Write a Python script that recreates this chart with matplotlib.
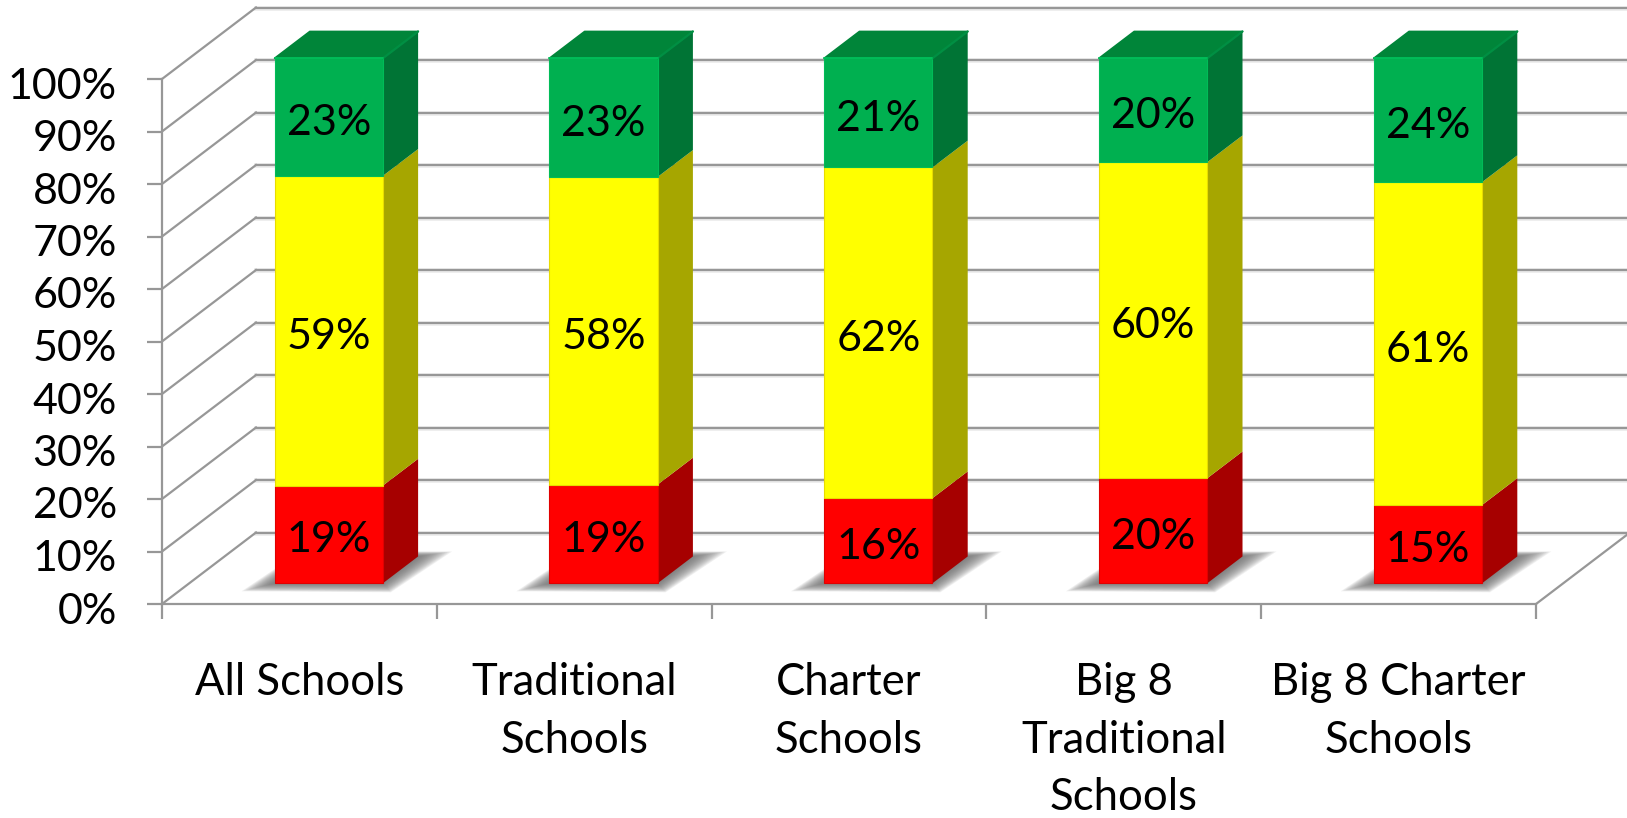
import matplotlib
matplotlib.use("Agg")
import matplotlib.pyplot as plt
from matplotlib.patches import Polygon
from matplotlib.transforms import Affine2D
import numpy as np

plt.rcParams['font.family'] = ['Lato', 'DejaVu Sans']

categories = ["All Schools", "Traditional\nSchools", "Charter\nSchools",
              "Big 8\nTraditional\nSchools", "Big 8 Charter\nSchools"]
red_values = [18.6, 18.8, 16.2, 20.0, 14.9]
yellow_values = [59.0, 58.6, 63.0, 60.2, 61.5]
green_values = [22.4, 22.6, 20.8, 19.8, 23.6]
red_labels = ["19%", "19%", "16%", "20%", "15%"]
yellow_labels = ["59%", "58%", "62%", "60%", "61%"]
green_labels = ["23%", "23%", "21%", "20%", "24%"]
y_ticks = list(range(0, 101, 10))

W, H = 1627, 818
DX, DY = 94.0, 71.5          # pixel shift from front to back of the 3D box
Z0, Z1 = 0.29, 0.665         # bar depth inside the box
GRID = "#979797"
FS = 31
LW = 1.6
TEXT_DROP = 6                # px, Calibri-like vertical placement of the labels
BAR_SHIFT = 0.0075           # category units

fig = plt.figure(figsize=(W / 100, H / 100), dpi=100, facecolor="white")
ax = fig.add_axes([162 / W, (H - 604) / H, (1536 - 162) / W, (604 - 79) / H])
ax.set_xlim(0, 5)
ax.set_ylim(0, 100)
ax.patch.set_alpha(0)
for s in ("top", "right"):
    ax.spines[s].set_visible(False)
for s in ("left", "bottom"):
    ax.spines[s].set_color(GRID)
    ax.spines[s].set_linewidth(LW)

ax.set_yticks(y_ticks)
ax.set_yticklabels([f"{v}%" for v in y_ticks], fontsize=FS, color="black")
ax.tick_params(axis="y", length=10.5, width=LW, color=GRID, pad=22)
for lab in ax.get_yticklabels():
    lab.set_transform(lab.get_transform() + Affine2D().translate(0, -4))
ax.set_xticks(range(6))
ax.set_xticklabels([])
ax.tick_params(axis="x", length=11, width=LW, color=GRID)
ax.set_xticks(np.arange(5) + 0.5, minor=True)
ax.set_xticklabels(categories, minor=True, fontsize=31.4, color="black", linespacing=1.5)
ax.tick_params(axis="x", which="minor", length=0, pad=42)


def pt(x, v, z=0.0):
    px = ax.transData.transform((x, v))
    return (px[0] + DX * z, px[1] + DY * z)


def depth(z, drop=0.0):
    return ax.transData + Affine2D().translate(DX * z, DY * z - drop)


def face(points, color, zorder, **kw):
    kw.setdefault("linewidth", 0)
    ax.add_patch(Polygon(points, closed=True, facecolor=color, edgecolor=kw.pop("edgecolor", "none"),
                         transform=Affine2D(), clip_on=False, zorder=zorder, **kw))


# walls
for v in y_ticks:
    for lw, col, a in ((3.4, "#c8c8c8", 0.35), (LW, GRID, 1)):
        ax.plot([0, 5], [v, v], transform=depth(1), color=col, alpha=a, lw=lw, clip_on=False, zorder=1)
    a0, a1 = pt(0, v, 0), pt(0, v, 1)
    ax.plot([a0[0], a1[0]], [a0[1], a1[1]], transform=Affine2D(), color=GRID, lw=LW,
            clip_on=False, zorder=1)
a0, a1 = pt(5, 0, 0), pt(5, 0, 1)
ax.plot([a0[0], a1[0]], [a0[1], a1[1]], transform=Affine2D(), color=GRID, lw=LW, clip_on=False, zorder=1)

HALF = 0.197
STEPS = 16
for i in range(5):
    c = i + 0.5 + BAR_SHIFT
    xl, xr = c - HALF, c + HALF

    # soft floor shadow, grown outwards from the footprint
    fp = np.array([pt(xl, 0, Z0), pt(xr, 0, Z0), pt(xr, 0, Z1), pt(xl, 0, Z1)])
    grow = np.array([[-33, -8], [8, -9], [34, 5], [-9, 5]], dtype=float)
    for k in range(STEPS):
        t = 1 - k / (STEPS - 1)
        face(fp + grow * t, "#6a6a6a", 2, alpha=0.10)

    bottom = 0.0
    for vals, labs, front, side, top_col, edge in (
        (red_values, red_labels, "#FF0000", "#A60000", None, "#E00000"),
        (yellow_values, yellow_labels, "#FFFF00", "#A6A600", None, "#E8DC00"),
        (green_values, green_labels, "#00B050", "#007435", "#008539", "#00BC58"),
    ):
        v = vals[i]
        ax.bar(c, v, bottom=bottom, width=2 * HALF, color=front, edgecolor=edge, linewidth=0.8,
               transform=depth(Z0), clip_on=False, zorder=4)
        face([pt(xr, bottom, Z0), pt(xr, bottom, Z1), pt(xr, bottom + v, Z1), pt(xr, bottom + v, Z0)],
             side, 3)
        if top_col:
            t = bottom + v
            face([pt(xl, t, Z0), pt(xr, t, Z0), pt(xr, t, Z1), pt(xl, t, Z1)], top_col, 3,
                 edgecolor=top_col, linewidth=1.2, joinstyle="round")
            a, b = pt(xr, t, Z0), pt(xr, t, Z1)
            ax.plot([a[0], b[0]], [a[1], b[1]], transform=Affine2D(), color="#008F43", lw=1.6,
                    clip_on=False, zorder=5, solid_capstyle="round")
            a, b = pt(xl, t, Z0), pt(xr, t, Z0)
            ax.plot([a[0], b[0]], [a[1], b[1]], transform=Affine2D(), color="#00BC58", lw=1.4,
                    clip_on=False, zorder=5, solid_capstyle="round")
        ax.text(c, bottom + v / 2, labs[i], transform=depth(Z0, TEXT_DROP), ha="center", va="center",
                fontsize=FS, color="black", zorder=6, clip_on=False)
        bottom += v

fig.savefig("out.png", dpi=100, facecolor="white")
